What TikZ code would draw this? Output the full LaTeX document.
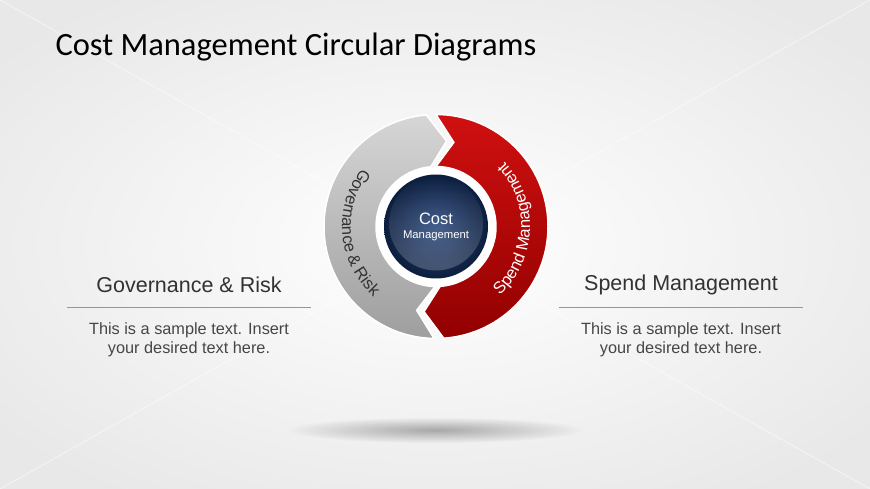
\documentclass[tikz,border=0pt]{standalone}
\usepackage{fontspec}
\setmainfont{Liberation Sans}
\newfontfamily\titlefont{Carlito}
\usetikzlibrary{positioning, calc, fadings, decorations.text}

\definecolor{bgedge}{RGB}{232,232,232}
\definecolor{ringgrayA}{RGB}{214,214,214}
\definecolor{ringgrayB}{RGB}{158,158,158}
\definecolor{ringredA}{RGB}{208,16,16}
\definecolor{ringredB}{RGB}{146,0,0}
\definecolor{navyA}{RGB}{44,74,126}
\definecolor{navyB}{RGB}{12,30,62}
\definecolor{labelgray}{RGB}{50,50,50}
\definecolor{rulegray}{RGB}{150,150,150}

\tikzfading[name=softshadow, inner color=transparent!0, outer color=transparent!100]

\tikzstyle{heading} = [font=\fontsize{21.5}{24}\selectfont, text=labelgray, inner sep=0pt]
\tikzstyle{body} = [font=\fontsize{16.3}{19.5}\selectfont, text=labelgray!90, align=center, inner sep=0pt]
\tikzstyle{divider} = [draw=rulegray, line width=1.3pt]
\tikzstyle{graypart} = [top color=ringgrayA, bottom color=ringgrayB, draw=white, line width=1.5pt]
\tikzstyle{redpart} = [top color=ringredA, bottom color=ringredB, draw=white, line width=1.5pt]
\tikzstyle{core} = [circle, minimum size=104pt, inner sep=0pt, inner color=navyA, outer color=navyB, text=white, align=center]

\begin{document}
\begin{tikzpicture}[x=1pt, y=1pt]
%背景
\useasboundingbox (0,0) rectangle (870,489);
\shade[inner color=white, outer color=bgedge] (-120,-60) rectangle (990,549);
\draw[white, line width=1pt, opacity=0.45] (0,489) -- (870,0);
\draw[white, line width=1pt, opacity=0.45] (0,0) -- (870,489);
\fill[black, opacity=0.3, path fading=softshadow] (435,59) ellipse[x radius=150pt, y radius=13pt];

%标题
\node (title) [anchor=base west, font=\titlefont\fontsize{32.5}{38}\selectfont] at (52,433.5) {Cost Management Circular Diagrams};

%环形箭头
\begin{scope}[shift={(436,262.5)}]
% 灰色箭头
\path[graypart] (95:112pt) arc[start angle=95, end angle=269, radius=112pt]
  -- (257:86pt) -- (269:60pt) arc[start angle=269, end angle=95, radius=60pt]
  -- (83:86pt) -- cycle;
% 红色箭头
\path[redpart] (90:112pt) arc[start angle=90, end angle=-86, radius=112pt]
  -- (-98:86pt) -- (-86:60pt) arc[start angle=-86, end angle=90, radius=60pt]
  -- (78:86pt) -- cycle;
% 环上文字
\path[decorate, decoration={text along path, text align=center, text color=labelgray,
  text={|\fontsize{16.5}{17}\selectfont|Governance {\&} Risk}}]
  (125:94pt) arc[start angle=125, end angle=245, radius=94pt];
\path[decorate, decoration={text along path, text align=center, text color=white,
  text={|\fontsize{16.5}{17}\selectfont|Spend Management}}]
  (-62:94pt) arc[start angle=-62, end angle=58, radius=94pt];
% 中心圆
\fill[white] (0,0) circle[radius=59pt];
\node (core) [core] at (0,0) {\fontsize{16.5}{18}\selectfont Cost\\[2pt]\fontsize{11.3}{13}\selectfont Management};
\fill[white, opacity=0.22, path fading=north] (0,3) ellipse[x radius=47pt, y radius=47pt];
\end{scope}

%左右说明
\node (govhead) [heading] at (189,204) {Governance \& Risk};
\node (govtext) [body] at (189,149) {This is a sample text. Insert\\your desired text here.};
\node (sphead) [heading] at (681,204) {Spend Management};
\node (sptext) [body] at (681,149) {This is a sample text. Insert\\your desired text here.};
\draw[divider] (67,181.5) -- (311,181.5);
\draw[divider] (559,181.5) -- (803,181.5);
\end{tikzpicture}
\end{document}
